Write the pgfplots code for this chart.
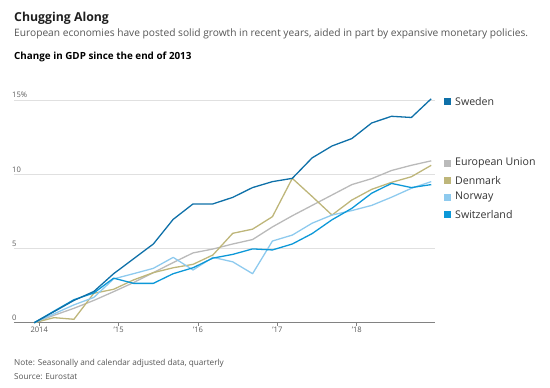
\documentclass[border=0pt]{standalone}
\usepackage{pgfplots}
\pgfplotsset{compat=1.18}
\usepackage{fontspec}
\setmainfont{Open Sans}
\definecolor{sweden}{RGB}{14,112,168}
\definecolor{swiss}{RGB}{12,152,216}
\definecolor{norway}{RGB}{142,202,238}
\definecolor{eu}{RGB}{186,186,186}
\definecolor{denmark}{RGB}{190,182,122}
\definecolor{axisgray}{RGB}{130,130,130}
\definecolor{tickgray}{RGB}{90,90,90}
\definecolor{subgray}{RGB}{85,85,85}
\begin{document}
\begin{tikzpicture}[x=1pt,y=1pt]
\useasboundingbox (0,0) rectangle (550,-388);
\begin{axis}[
  at={(14pt,-322.7pt)}, anchor=south west,
  scale only axis, width=421pt, height=227.2pt,
  xmin=-1.02, xmax=20.19, ymin=0, ymax=15.3,
  clip=false,
  axis x line*=bottom, axis y line*=left,
  y axis line style={draw=none},
  x axis line style={draw=axisgray, line width=1.2pt, -},
  ytick={0,5,10,15}, yticklabels={0,5,10,15\%},
  ymajorgrids, grid style={black!12, line width=0.8pt},
  ytick style={draw=none},
  yticklabel style={anchor=south west, inner sep=0pt, xshift=1pt, yshift=1.8pt, font=\fontsize{7.6}{8}\selectfont, text=tickgray},
  xtick={0.25,4.25,8.25,12.25,16.25},
  xticklabels={2014,'15,'16,'17,'18},
  tick align=outside, major tick length=3pt,
  xtick style={draw=axisgray, line width=0.8pt},
  xticklabel style={font=\fontsize{7.6}{8}\selectfont, text=tickgray, inner sep=1pt, yshift=0pt},
  every axis plot/.append style={line width=1.3pt, line join=round, no markers},
]
\addplot[eu] coordinates {(0,0) (1,0.5) (2,0.97) (3,1.5) (4,2.09) (5,2.7) (6,3.37) (7,4.05) (8,4.7) (9,4.96) (10,5.3) (11,5.6) (12,6.45) (13,7.2) (14,7.9) (15,8.6) (16,9.3) (17,9.7) (18,10.25) (19,10.6) (20,10.9)};
\addplot[denmark] coordinates {(0,0) (1,0.34) (2,0.23) (3,1.98) (4,2.25) (5,2.88) (6,3.37) (7,3.7) (8,3.93) (9,4.56) (10,6.02) (11,6.3) (12,7.14) (13,9.72) (14,8.5) (15,7.25) (16,8.26) (17,8.98) (18,9.45) (19,9.83) (20,10.6)};
\addplot[norway] coordinates {(0,0) (1,0.6) (2,1.2) (3,1.7) (4,2.95) (5,3.3) (6,3.66) (7,4.4) (8,3.55) (9,4.4) (10,4.1) (11,3.3) (12,5.5) (13,5.9) (14,6.7) (15,7.25) (16,7.55) (17,7.9) (18,8.45) (19,9.05) (20,9.5)};
\addplot[swiss] coordinates {(0,0) (1,0.78) (2,1.55) (3,2.0) (4,3.0) (5,2.65) (6,2.65) (7,3.3) (8,3.7) (9,4.35) (10,4.6) (11,4.97) (12,4.9) (13,5.3) (14,6.0) (15,6.93) (16,7.7) (17,8.72) (18,9.38) (19,9.1) (20,9.3)};
\addplot[sweden] coordinates {(0,0) (1,0.75) (2,1.5) (3,2.1) (4,3.3) (5,4.3) (6,5.3) (7,6.96) (8,8.0) (9,8.0) (10,8.44) (11,9.1) (12,9.5) (13,9.72) (14,11.1) (15,11.9) (16,12.4) (17,13.45) (18,13.9) (19,13.82) (20,15.08)};
\end{axis}
% titles
\node[anchor=base west, inner sep=0pt, text=black!88] at (14,-21) {\fontsize{12.3}{15}\selectfont\bfseries Chugging Along};
\node[anchor=base west, inner sep=0pt, text=subgray] at (14,-37) {\fontsize{10.2}{11}\selectfont European economies have posted solid growth in recent years, aided in part by expansive monetary policies.};
\node[anchor=base west, inner sep=0pt, text=black] at (14,-59.5) {\fontsize{9.85}{11}\selectfont\bfseries Change in GDP since the end of 2013};
% legend
\foreach \c/\lab/\yy in {sweden/Sweden/101.7, eu/European Union/163.3, denmark/Denmark/180.3, norway/Norway/197.3, swiss/Switzerland/214.7}{
  \fill[\c] (444,-\yy-3.5) rectangle (451,-\yy+3.5);
  \node[anchor=west, inner sep=0pt, text=black!80] at (455,-\yy) {\fontsize{10.6}{12}\selectfont \lab};
}
% notes
\node[anchor=base west, inner sep=0pt, text=subgray] at (14,-365) {\fontsize{8.2}{9}\selectfont Note: Seasonally and calendar adjusted data, quarterly};
\node[anchor=base west, inner sep=0pt, text=subgray] at (14,-379) {\fontsize{8.2}{9}\selectfont Source: Eurostat};
\end{tikzpicture}
\end{document}
